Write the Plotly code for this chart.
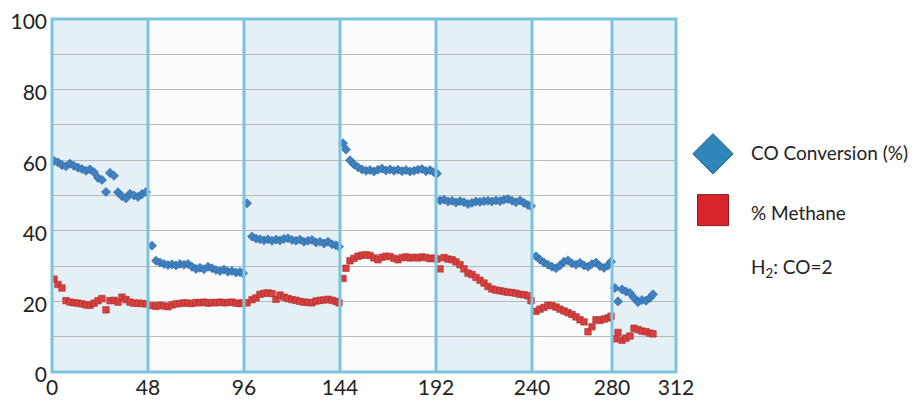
import plotly.graph_objects as go

# Time on stream (hours) for each measurement
hours = [
    1, 3, 5, 7, 9, 11, 13, 15, 17, 19, 21, 23, 25, 27, 29, 31, 33, 35, 37, 39, 41, 43, 45, 47,
    50, 52, 54, 56, 58, 60, 62, 64, 66, 68, 70, 72, 74, 76, 78, 80, 82, 84, 86, 88, 90, 92, 94, 95.5,
    97.5, 100, 102, 104, 106, 108, 110, 112, 114, 116, 118, 120, 122, 124, 126, 128, 130, 132, 134, 136, 138, 140, 142, 143.5,
    145.5, 147, 149, 151, 153, 155, 157, 159, 161, 163, 165, 167, 169, 171, 173, 175, 177, 179, 181, 183, 185, 187, 189, 191, 192.5,
    194, 196, 198, 200, 202, 204, 206, 208, 210, 212, 214, 216, 218, 220, 222, 224, 226, 228, 230, 232, 234, 236, 238, 239.5,
    242, 244, 246, 248, 250, 252, 254, 256, 258, 260, 262, 264, 266, 268, 270, 272, 274, 276, 278, 279.5,
    281.5, 283, 285, 287, 289, 291, 293, 295, 297, 299, 300.5,
]

co_conversion = [
    59.8, 59.4, 58.6, 58.3, 59.0, 58.4, 57.9, 57.5, 57.0, 57.4, 56.6, 55.0, 54.4, 51.0, 56.4, 55.6, 50.9, 49.8, 49.2, 50.5, 50.0, 49.6, 50.4, 51.0,
    35.8, 31.5, 31.0, 30.6, 30.3, 30.5, 30.2, 30.6, 30.4, 30.6, 29.8, 29.2, 29.5, 29.1, 29.8, 29.4, 28.9, 28.6, 29.0, 28.4, 28.6, 28.2, 28.3, 28.0,
    47.8, 38.4, 37.8, 37.6, 37.3, 37.6, 37.2, 37.5, 37.3, 37.7, 37.9, 37.4, 37.2, 37.5, 36.9, 37.2, 37.4, 36.7, 36.9, 36.4, 36.9, 36.2, 35.9, 35.5,
    64.8, 63.0, 60.0, 58.8, 58.0, 57.4, 57.0, 57.2, 56.8, 57.3, 57.6, 57.1, 57.4, 57.0, 57.3, 56.9, 57.2, 56.8, 57.0, 57.3, 57.5, 56.9, 57.2, 56.6, 56.2,
    48.6, 48.8, 48.3, 48.5, 48.0, 48.4, 48.1, 47.6, 47.9, 48.3, 48.2, 48.4, 48.5, 48.3, 48.6, 48.4, 48.8, 49.0, 48.5, 48.1, 48.6, 47.9, 47.3, 47.0,
    32.8, 31.8, 31.0, 30.4, 29.8, 29.4, 30.2, 31.2, 31.6, 30.8, 30.4, 30.9, 30.2, 29.8, 30.6, 31.0, 30.0, 29.5, 30.2, 31.2,
    23.8, 20.0, 23.4, 22.8, 22.4, 21.0, 19.8, 20.4, 20.2, 21.0, 22.0,
]

methane = [
    26.3, 24.8, 23.8, 20.2, 19.8, 19.6, 19.5, 19.3, 19.0, 18.9, 19.5, 20.2, 20.8, 17.6, 20.2, 20.3, 19.8, 21.2, 20.5, 19.8, 19.5, 19.5, 19.4, 19.3,
    18.8, 18.6, 18.9, 18.7, 18.5, 19.0, 19.3, 19.4, 19.6, 19.5, 19.4, 19.7, 19.6, 19.8, 19.5, 19.7, 19.6, 19.8, 19.6, 19.7, 19.8, 19.5, 19.4, 19.6,
    19.6, 20.5, 21.0, 22.0, 22.3, 22.4, 22.2, 20.6, 21.8, 21.2, 20.8, 20.5, 20.3, 20.0, 19.8, 19.7, 19.6, 20.1, 20.3, 20.4, 20.6, 20.3, 20.0, 19.6,
    26.5, 29.4, 31.5, 32.2, 32.8, 33.1, 33.2, 33.0, 32.3, 31.8, 32.5, 32.8, 32.7, 32.2, 31.8, 32.4, 32.6, 32.3, 32.5, 32.3, 32.6, 32.4, 32.1, 32.3, 32.0,
    29.2, 32.4, 32.0, 31.8, 31.2, 30.4, 29.2, 28.0, 27.6, 26.8, 26.0, 25.2, 24.2, 23.5, 23.2, 23.0, 22.8, 22.6, 22.5, 22.3, 22.0, 21.9, 21.6, 20.2,
    17.2, 17.8, 18.3, 18.9, 18.8, 18.4, 17.8, 17.3, 16.8, 16.3, 15.6, 14.8, 14.2, 11.4, 12.8, 14.8, 14.6, 15.0, 15.3, 15.8,
    9.4, 11.2, 9.0, 9.6, 10.2, 12.4, 12.0, 11.6, 11.4, 11.0, 10.8,
]

# Condition changes (hours) and axis ticks
period_edges = [0, 48, 96, 144, 192, 240, 280, 312]
x_ticks = [0, 48, 96, 144, 192, 240, 280, 312]

W, H = 920, 408
OFF = 8  # page body margin shifts the figure by this much
FONT = "Lato, 'Open Sans', sans-serif"
EDGE = "#7cc3dd"


def px_x(v):
    return (v - OFF) / W


def px_y(v):
    return 1 - (v - OFF) / H


fig = go.Figure()

fig.add_trace(go.Scatter(
    x=hours, y=methane, mode="markers", name="% Methane",
    marker=dict(symbol="square", size=6.5, color="#d6403d",
                line=dict(color="#ad2a2a", width=0.6)),
    showlegend=False,
))
fig.add_trace(go.Scatter(
    x=hours, y=co_conversion, mode="markers", name="CO Conversion (%)",
    marker=dict(symbol="diamond", size=7, color="#3e82c2",
                line=dict(color="#2a5e93", width=0.6)),
    showlegend=False,
))

# legend glyphs on a small hidden axis at the right
fig.add_trace(go.Scatter(
    x=[0], y=[0], mode="markers", xaxis="x2", yaxis="y2", hoverinfo="skip",
    marker=dict(symbol="diamond", size=31, color="#2f86b8",
                line=dict(color="#1f5f88", width=1)),
    showlegend=False,
))
fig.add_trace(go.Scatter(
    x=[0], y=[-1], mode="markers", xaxis="x2", yaxis="y2", hoverinfo="skip",
    marker=dict(symbol="square", size=31, color="#d8242b",
                line=dict(color="#8a1a1a", width=1)),
    showlegend=False,
))

shapes = []
# alternating background bands per period
for i in range(len(period_edges) - 1):
    shapes.append(dict(
        type="rect", xref="x", yref="y domain", layer="below",
        x0=period_edges[i], x1=period_edges[i + 1], y0=0, y1=1,
        fillcolor="#e5eff6" if i % 2 == 0 else "#fafbfc", line=dict(width=0),
    ))
# period dividers
for e in period_edges[1:-1]:
    shapes.append(dict(
        type="line", xref="x", yref="y domain", layer="above",
        x0=e, x1=e, y0=0, y1=1, line=dict(color=EDGE, width=3),
    ))
# frame
shapes.append(dict(
    type="rect", xref="x domain", yref="y domain", layer="above",
    x0=0, x1=1, y0=0, y1=1, line=dict(color=EDGE, width=3),
))

annotations = [
    dict(text="CO Conversion (%)", x=px_x(749), y=px_y(152)),
    dict(text="% Methane", x=px_x(749), y=px_y(212)),
    dict(text="H<sub>2</sub>: CO=2", x=px_x(749), y=px_y(268)),
]
for a in annotations:
    a.update(xref="paper", yref="paper", showarrow=False, xanchor="left", yanchor="middle",
             font=dict(family=FONT, size=19, color="#222222"))

fig.update_layout(
    width=W, height=H,
    margin=dict(l=0, r=0, t=0, b=0),
    paper_bgcolor="white", plot_bgcolor="white",
    font=dict(family=FONT, size=21, color="#222222"),
    xaxis=dict(domain=[px_x(52), px_x(676)], range=[0, 312], tickvals=x_ticks,
               showgrid=False, zeroline=False, showline=False, ticks="",
               automargin=False, ticklabelstandoff=1, ticklabeloverflow="allow"),
    yaxis=dict(domain=[px_y(372), px_y(19)], range=[0, 100], dtick=20,
               showgrid=True, gridcolor="#b8b8b8", gridwidth=1,
               minor=dict(dtick=10, showgrid=True, gridcolor="#b8b8b8", gridwidth=1),
               zeroline=False, showline=False, ticks="", automargin=False,
               ticklabelstandoff=4, ticklabelshift=3, ticklabeloverflow="allow"),
    xaxis2=dict(domain=[px_x(690), px_x(736)], range=[-1, 1], visible=False, anchor="y2"),
    yaxis2=dict(domain=[px_y(240), px_y(120)], range=[-1.53, 0.6], visible=False, anchor="x2"),
    shapes=shapes,
    annotations=annotations,
)

fig.write_html("out.html")
